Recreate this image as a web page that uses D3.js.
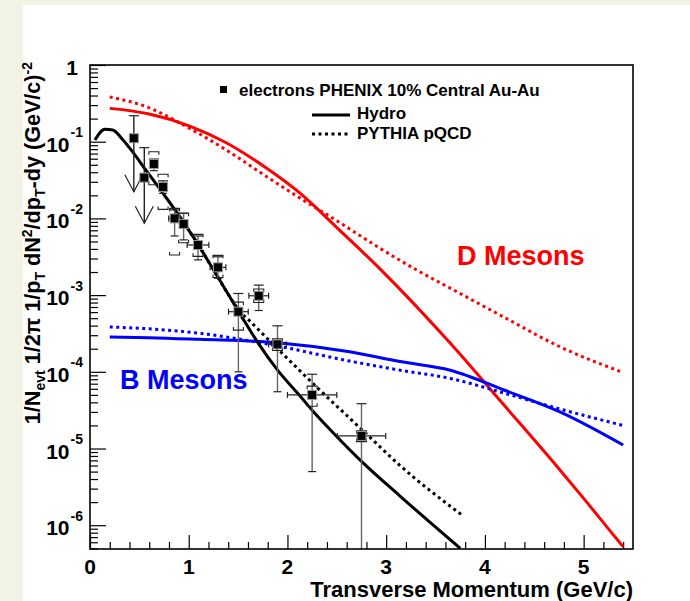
<!DOCTYPE html>
<html>
<head>
<meta charset="utf-8">
<script src="https://cdn.jsdelivr.net/npm/d3@7"></script>
<style>
  html, body { margin: 0; padding: 0; background: #fff; }
  svg { display: block; font-family: "Liberation Sans", Arial, sans-serif; font-weight: bold; }
</style>
</head>
<body>
<svg id="chart" width="690" height="601"></svg>
<script>
// Electron data (PHENIX 10% central Au-Au)
const ePt    = [0.444, 0.55, 0.647, 0.74, 0.857, 0.948, 1.094, 1.296, 1.503, 1.709, 1.899, 2.25, 2.75];
const eY     = [0.111, 0.034, 0.0513, 0.0257, 0.0100, 0.00845, 0.0045, 0.0023, 6.08e-4, 9.8e-4, 2.28e-4, 5.0e-5, 1.46e-5];
const eYHi   = [0.218, 0.0836, 0.0594, 0.0309, 0.0129, 0.0117, 0.0059, 0.00316, 1.05e-3, 1.35e-3, 3.98e-4, 9.3e-5, 3.84e-5];
const eYLo   = [0.0223, 0.00863, 0.0419, 0.0212, 0.0059, 0.00525, 0.00288, 0.00166, 1.0e-4, 6.3e-4, 5.5e-5, 5.0e-6, 1e-7];
const eXErr  = [0, 0, 0, 0, 0.06, 0, 0.11, 0.08, 0.1, 0.1, 0.09, 0.25, 0.245];
const eLimit = [true, true, false, false, false, false, false, false, false, false, false, false, false];
const sysHi  = [null, null, 0.074, 0.0376, 0.0135, 0.0117, 0.0062, 0.0033, 8.1e-4, 1.2e-3, 2.7e-4, 6.5e-5, 1.7e-5];
const sysLo  = [null, null, 0.0275, 0.0131, 0.00333, 0.00481, 0.0032, 0.0017, 3.5e-4, 8.0e-4, 1.9e-4, 3.55e-5, 1.23e-5];

// Electrons from heavy flavour: hydro (solid) and PYTHIA (dotted)
const hydroEPt = [0.05, 0.15, 0.23, 0.33, 0.43, 0.57, 0.74, 0.91, 1.08, 1.25, 1.42, 1.55, 1.70, 1.90, 2.13, 2.25, 2.46, 2.75, 3.14, 3.75];
const hydroEY  = [0.105, 0.145, 0.142, 0.107, 0.0741, 0.0419, 0.0212, 0.0105, 0.0049, 0.00214, 9.33e-4, 4.9e-4, 2.4e-4, 1.05e-4, 4.8e-5, 3.16e-5, 1.62e-5, 6.8e-6, 2.4e-6, 5.0e-7];
const pythEPt  = [0.91, 1.08, 1.25, 1.42, 1.50, 1.65, 1.90, 2.13, 2.33, 2.60, 2.80, 3.14, 3.76];
const pythEY   = [0.0105, 0.0049, 0.00214, 9.33e-4, 6.6e-4, 4.2e-4, 2.0e-4, 1.02e-4, 5.75e-5, 2.7e-5, 1.55e-5, 6.0e-6, 1.38e-6];

// D mesons
const hydroDPt = [0.2, 0.6, 1.01, 1.38, 1.79, 2.13, 2.5, 2.95, 3.65, 4.2, 4.76, 5.0, 5.34, 5.40];
const hydroDY  = [0.272, 0.230, 0.160, 0.097, 0.045, 0.0212, 0.0076, 0.00212, 2.35e-4, 3.6e-5, 5.25e-6, 2.24e-6, 6.5e-7, 5.25e-7];
const pythDPt  = [0.2, 0.57, 1.01, 1.38, 1.79, 2.13, 2.5, 2.9, 3.31, 3.65, 4.2, 4.76, 5.40];
const pythDY   = [0.383, 0.286, 0.149, 0.078, 0.035, 0.0183, 0.00933, 0.00437, 0.00212, 0.00123, 5.1e-4, 2.12e-4, 9.8e-5];

// B mesons
const hydroBPt = [0.2, 0.6, 1.11, 1.9, 2.63, 3.14, 3.65, 4.2, 4.76, 5.40];
const hydroBY  = [2.84e-4, 2.79e-4, 2.65e-4, 2.40e-4, 1.83e-4, 1.36e-4, 1.05e-4, 5.75e-5, 3.0e-5, 1.11e-5];
const pythBPt  = [0.2, 0.6, 1.11, 1.9, 2.63, 3.14, 3.65, 4.2, 4.76, 5.40];
const pythBY   = [3.84e-4, 3.63e-4, 3.18e-4, 2.17e-4, 1.38e-4, 1.05e-4, 8.2e-5, 5.25e-5, 3.27e-5, 2.0e-5];

// Axis ticks
const xMajor = [0, 1, 2, 3, 4, 5];
const yDecades = [1, 1e-1, 1e-2, 1e-3, 1e-4, 1e-5, 1e-6];
const yExponents = ["", "-1", "-2", "-3", "-4", "-5", "-6"];

const svg = d3.select('#chart');

// beige page border strips
svg.append('rect').attr('x', 0).attr('y', 0).attr('width', 690).attr('height', 601).attr('fill', '#f2f2e5');
svg.append('rect').attr('x', 23).attr('y', 5).attr('width', 667).attr('height', 596).attr('fill', '#fff');

const plotL = 90, plotR = 633, plotT = 65, plotB = 549;
const x = d3.scaleLinear().domain([0, 5.5]).range([plotL, plotR]);
const y = d3.scaleLog().domain([Math.pow(10, -6.31), 1]).range([plotB, plotT]);

svg.append('clipPath').attr('id', 'plot-clip')
  .append('rect').attr('x', plotL).attr('y', plotT).attr('width', plotR - plotL).attr('height', plotB - plotT);

// X axis ticks
const xMinor = d3.range(0, 5.5, 0.2).filter(v => Math.abs(v - Math.round(v)) > 1e-6);
const xAxisMajor = d3.axisBottom(x).tickValues(xMajor).tickSize(-14).tickFormat('');
const xAxisMinor = d3.axisBottom(x).tickValues(xMinor).tickSize(-7).tickFormat('');
[xAxisMajor, xAxisMinor].forEach(ax => {
  const g = svg.append('g').attr('transform', `translate(0,${plotB})`).call(ax);
  g.select('.domain').remove();
  g.selectAll('line').attr('stroke', '#000').attr('stroke-width', 1.2);
});
svg.selectAll(null).data(xMajor).enter().append('text')
  .attr('x', d => x(d)).attr('y', 574)
  .attr('text-anchor', 'middle').attr('font-size', 21).text(d => d);

// Y axis ticks (log)
const yMinor = [];
for (let k = -7; k < 0; k++) {
  for (let m = 2; m <= 9; m++) {
    const v = m * Math.pow(10, k);
    if (v >= y.domain()[0] && v <= 1) yMinor.push(v);
  }
}
const yAxisMajor = d3.axisLeft(y).tickValues(yDecades).tickSize(-16).tickFormat('');
const yAxisMinor = d3.axisLeft(y).tickValues(yMinor).tickSize(-8).tickFormat('');
[yAxisMajor, yAxisMinor].forEach(ax => {
  const g = svg.append('g').attr('transform', `translate(${plotL},0)`).call(ax);
  g.select('.domain').remove();
  g.selectAll('line').attr('stroke', '#000').attr('stroke-width', 1.2);
});
const yLabels = svg.append('g');
yDecades.forEach((d, i) => {
  const ty = y(d);
  if (i === 0) {
    yLabels.append('text').attr('x', 78).attr('y', ty + 10)
      .attr('text-anchor', 'end').attr('font-size', 21).text('1');
  } else {
    yLabels.append('text').attr('x', 69.5).attr('y', ty + 10)
      .attr('text-anchor', 'end').attr('font-size', 21).text('10');
    yLabels.append('text').attr('x', 70.5).attr('y', ty - 4.5)
      .attr('font-size', 14).text(yExponents[i]);
  }
});

// Curves
const plot = svg.append('g').attr('clip-path', 'url(#plot-clip)');
const line = d3.line().x(d => x(d[0])).y(d => y(d[1])).curve(d3.curveMonotoneX);
function drawCurve(pts, ys, color, dotted) {
  plot.append('path')
    .datum(d3.zip(pts, ys))
    .attr('d', line)
    .attr('fill', 'none')
    .attr('stroke', color)
    .attr('stroke-width', 3)
    .attr('stroke-dasharray', dotted ? '3,3.5' : null);
}
drawCurve(pythDPt, pythDY, '#ff0000', true);
drawCurve(hydroDPt, hydroDY, '#ff0000', false);
drawCurve(pythBPt, pythBY, '#0000ff', true);
drawCurve(hydroBPt, hydroBY, '#0000ff', false);
drawCurve(pythEPt, pythEY, '#000', true);
drawCurve(hydroEPt, hydroEY, '#000', false);

// Electron data points
const pts = ePt.map((v, i) => ({
  x: v, y: eY[i], hi: eYHi[i], lo: eYLo[i], xe: eXErr[i],
  lim: eLimit[i], sh: sysHi[i], sl: sysLo[i]
}));
const dataG = plot.append('g');
pts.forEach(p => {
  const cx = x(p.x), cy = y(p.y);
  const g = dataG.append('g');
  // vertical error
  g.append('line').attr('x1', cx).attr('x2', cx).attr('y1', y(p.hi)).attr('y2', y(p.lo))
    .attr('stroke', p.lim ? '#222' : '#666').attr('stroke-width', 1.4);
  g.append('line').attr('x1', cx - 5).attr('x2', cx + 5).attr('y1', y(p.hi)).attr('y2', y(p.hi))
    .attr('stroke', '#222').attr('stroke-width', 1.2);
  if (p.lim) {
    const ty = y(p.lo);
    g.append('path').attr('d', `M${cx - 9},${ty - 17}L${cx},${ty}L${cx + 9},${ty - 17}`)
      .attr('fill', 'none').attr('stroke', '#222').attr('stroke-width', 1.2);
  } else {
    g.append('line').attr('x1', cx - 4).attr('x2', cx + 4).attr('y1', y(p.lo)).attr('y2', y(p.lo))
      .attr('stroke', '#222').attr('stroke-width', 1.2);
  }
  // horizontal error
  if (p.xe > 0) {
    const x0 = x(p.x - p.xe), x1 = x(p.x + p.xe);
    g.append('line').attr('x1', x0).attr('x2', x1).attr('y1', cy).attr('y2', cy)
      .attr('stroke', '#222').attr('stroke-width', 1.2);
    g.append('line').attr('x1', x0).attr('x2', x0).attr('y1', cy - 3).attr('y2', cy + 3)
      .attr('stroke', '#222').attr('stroke-width', 1.2);
    g.append('line').attr('x1', x1).attr('x2', x1).attr('y1', cy - 3).attr('y2', cy + 3)
      .attr('stroke', '#222').attr('stroke-width', 1.2);
  }
  // systematic brackets
  if (p.sh !== null) {
    const hy = y(p.sh), ly = y(p.sl);
    g.append('path').attr('d', `M${cx - 5},${hy + 3}V${hy}H${cx + 5}V${hy + 3}`)
      .attr('fill', 'none').attr('stroke', '#222').attr('stroke-width', 1.1);
    g.append('path').attr('d', `M${cx - 5},${ly - 3}V${ly}H${cx + 5}V${ly - 3}`)
      .attr('fill', 'none').attr('stroke', '#222').attr('stroke-width', 1.1);
  }
  g.append('rect').attr('x', cx - 4.5).attr('y', cy - 4.5).attr('width', 9).attr('height', 9)
    .attr('fill', '#000').attr('stroke', '#999').attr('stroke-width', 1);
});

// Frame
svg.append('rect').attr('x', plotL).attr('y', plotT).attr('width', plotR - plotL).attr('height', plotB - plotT)
  .attr('fill', 'none').attr('stroke', '#000').attr('stroke-width', 1.6);

// Legend
const leg = svg.append('g');
leg.append('rect').attr('x', 220).attr('y', 86).attr('width', 7).attr('height', 7).attr('fill', '#000');
leg.append('text').attr('x', 239).attr('y', 96).attr('font-size', 17).text('electrons PHENIX 10% Central Au-Au');
leg.append('line').attr('x1', 312).attr('x2', 350).attr('y1', 115).attr('y2', 115)
  .attr('stroke', '#000').attr('stroke-width', 3);
leg.append('text').attr('x', 357).attr('y', 119).attr('font-size', 17).text('Hydro');
leg.append('line').attr('x1', 312).attr('x2', 350).attr('y1', 134).attr('y2', 134)
  .attr('stroke', '#000').attr('stroke-width', 3).attr('stroke-dasharray', '3,3.5');
leg.append('text').attr('x', 357).attr('y', 139).attr('font-size', 17).text('PYTHIA pQCD');

// Curve labels
svg.append('text').attr('x', 457).attr('y', 265).attr('font-size', 27).attr('fill', '#ff0000').text('D Mesons');
svg.append('text').attr('x', 120).attr('y', 389).attr('font-size', 27).attr('fill', '#0000ff').text('B Mesons');

// Axis titles
svg.append('text').attr('x', plotR).attr('y', 597).attr('text-anchor', 'end')
  .attr('font-size', 22).text('Transverse Momentum (GeV/c)');

const yt = svg.append('text').attr('transform', 'translate(40,62) rotate(-90)')
  .attr('text-anchor', 'end').attr('font-size', 21.6);
yt.append('tspan').text('1/N');
yt.append('tspan').attr('font-size', 14).attr('dy', 5).text('evt');
yt.append('tspan').attr('dy', -5).text(' 1/2\u03c0 1/p');
yt.append('tspan').attr('font-size', 14).attr('dy', 5).text('T');
yt.append('tspan').attr('dy', -5).text(' dN');
yt.append('tspan').attr('font-size', 14).attr('dy', -8).text('2');
yt.append('tspan').attr('dy', 8).text('/dp');
yt.append('tspan').attr('font-size', 14).attr('dy', 5).text('T');
yt.append('tspan').attr('dy', -5).text('-dy (GeV/c)');
yt.append('tspan').attr('font-size', 14).attr('dy', -8).text('-2');
</script>
</body>
</html>
